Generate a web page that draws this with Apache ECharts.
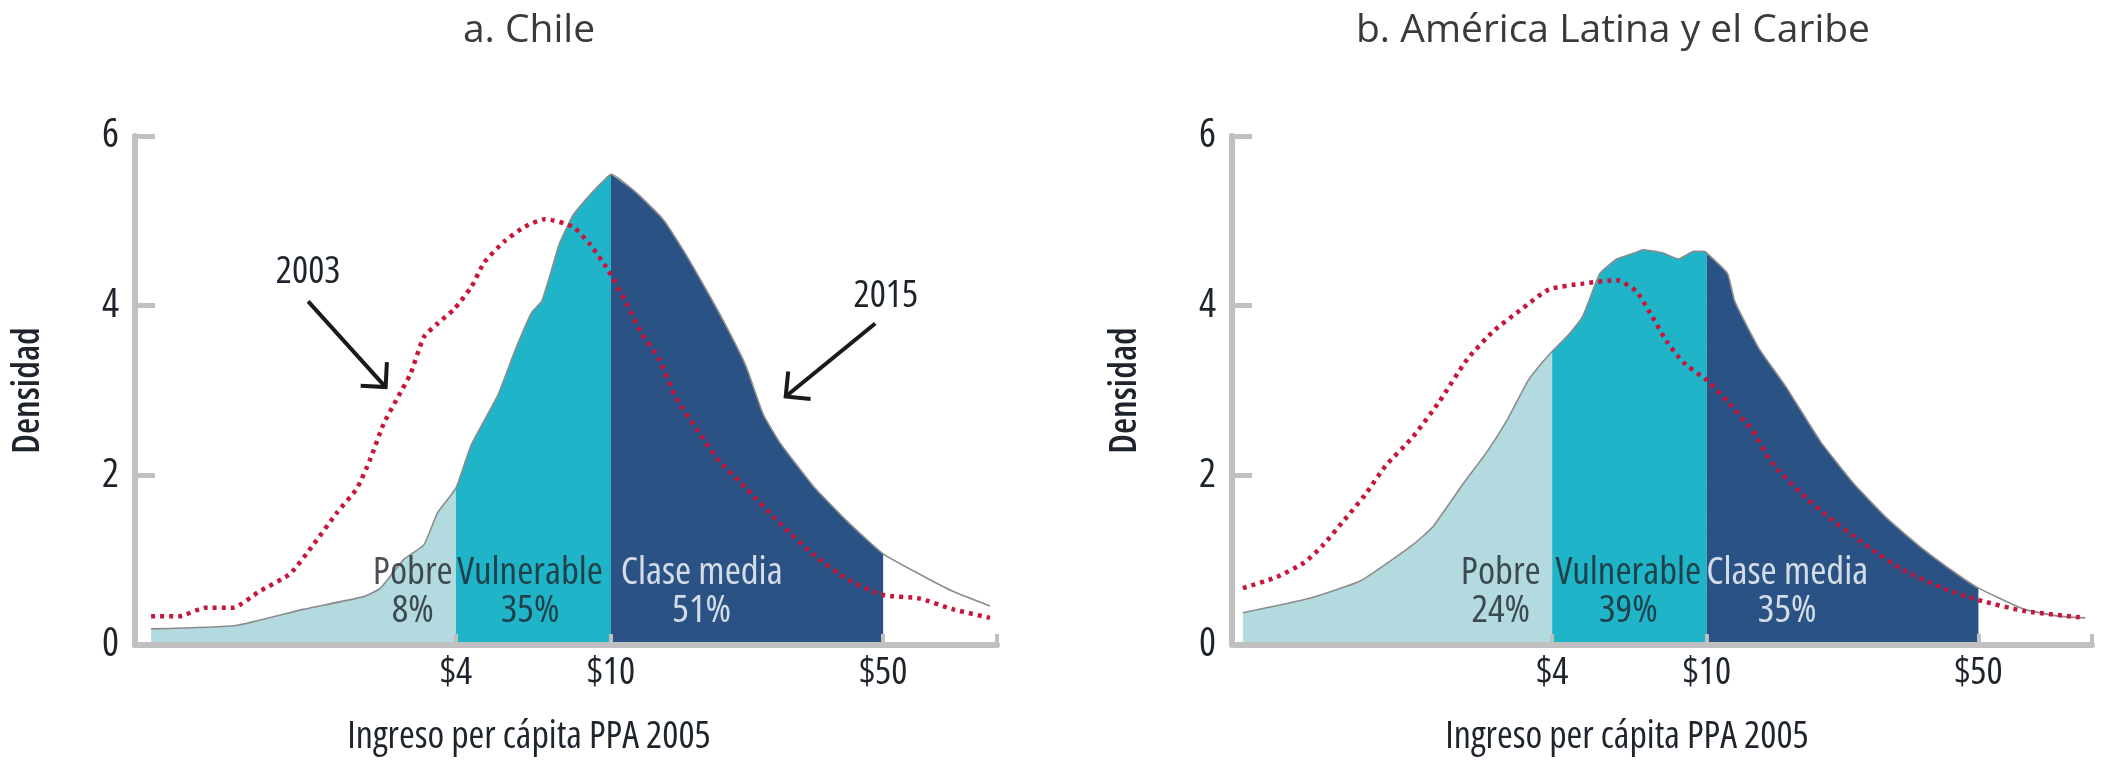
<!DOCTYPE html>
<html><head><meta charset="utf-8">
<script src="https://cdn.jsdelivr.net/npm/echarts@6/dist/echarts.min.js"></script>
<style>html,body{margin:0;padding:0;background:#fff}#c{width:2119px;height:764px}</style>
</head><body><div id="c"></div>
<script>
// ---------- data ----------
const panelTitles = ['a. Chile', 'b. América Latina y el Caribe'];
const yAxisName = 'Densidad';
const xAxisName = 'Ingreso per cápita PPA 2005';
const incomeTicks = [4, 10, 50];
const tickLabels = ['$4', '$10', '$50'];
const groups = ['Pobre', 'Vulnerable', 'Clase media'];
const chileShares = ['8%', '35%', '51%'];
const alcShares = ['24%', '39%', '35%'];
const yearLabels = ['2003', '2015'];

// Chile, 2015 density (income $ PPP/day, density)
const chile2015X = [0.66,1.09,1.62,2.32,2.56,2.94,3.31,3.59,4,4.38,5.13,5.66,6.26,6.64,7.05,7.36,7.98,8.85,9.8,10,11.5,13.6,15.4,17.4,19.6,22.2,24.6,27.2,33.4,41,50,61.7,75.7,94];
const chile2015Y = [0.19,0.23,0.42,0.57,0.67,1.01,1.18,1.56,1.85,2.36,2.95,3.46,3.92,4.05,4.43,4.72,5.06,5.31,5.52,5.55,5.35,5.02,4.64,4.22,3.79,3.29,2.72,2.38,1.85,1.43,1.075,0.84,0.63,0.46];
// Chile, 2003 density
const chile2003X = [0.66,0.78,0.91,1.07,1.25,1.5,1.72,1.98,2.23,2.41,2.61,2.83,3.06,3.31,3.59,3.96,4.38,4.73,5.33,6.01,6.77,7.98,8.85,9.8,10.9,12,13.3,14.7,16.7,18.8,22.2,27.2,33.4,41,50,61.7,75.7,94];
const chile2003Y = [0.34,0.34,0.44,0.44,0.63,0.84,1.18,1.56,1.85,2.19,2.61,2.91,3.2,3.63,3.79,3.96,4.22,4.51,4.76,4.93,5.02,4.93,4.72,4.43,4.05,3.67,3.37,2.91,2.53,2.19,1.85,1.43,1.05,0.76,0.59,0.55,0.42,0.32];
// América Latina y el Caribe, 2015 density
const alc2015X = [0.64,0.95,1.29,1.75,1.97,2.36,2.72,3.07,3.47,3.77,4,4.43,4.8,5.31,5.87,6.5,6.84,7.72,8.45,9.26,9.84,10,11.3,11.8,13.6,16,19.6,23.9,29.3,35.8,43.9,50,65.8,80.4,94];
const alc2015Y = [0.38,0.55,0.76,1.18,1.39,1.9,2.28,2.66,3.12,3.33,3.46,3.67,3.88,4.38,4.55,4.62,4.66,4.62,4.55,4.64,4.64,4.62,4.38,4.05,3.5,3.04,2.4,1.9,1.48,1.14,0.84,0.67,0.42,0.34,0.32];
// América Latina y el Caribe, 2003 density
const alc2003X = [0.64,0.78,0.92,1.03,1.17,1.32,1.49,1.75,2.05,2.42,2.84,3.34,3.92,4.8,5.87,6.58,7.13,7.88,8.71,10,11.3,13.1,14.7,17.3,20.4,24.9,31.8,40.5,50,65.8,94];
const alc2003Y = [0.67,0.8,0.97,1.18,1.48,1.77,2.11,2.45,2.87,3.37,3.71,3.96,4.19,4.26,4.3,4.17,3.92,3.58,3.33,3.12,2.87,2.53,2.15,1.81,1.52,1.22,0.89,0.67,0.53,0.4,0.32];

// ---------- layout / style (not data) ----------
const X_MIN = 0.6, X_MAX = 98;
const grids = [
  {left: 135, top: 136, width: 862, height: 509},
  {left: 1232, top: 136, width: 860, height: 509}
];
const groupLabelX = [[3.1, 6.2, 17.1], [2.95, 6.28, 16.1]];
const groupLabelY = 0.63;
const colors = {pobre: '#b2dadf', vuln: '#20b4c8', media: '#2b5285', outline: '#8c8c8c', red: '#c8153a', axis: '#c0c0c0', text: '#1e242c'};
const narrow = '"Open Sans","DejaVu Sans",sans-serif';
const COND = '500 condensed';          // font-stretch keyword placed in the weight slot
const COND_B = '600 condensed';
const bands = [[0, 4, colors.pobre], [4, 10, colors.vuln], [10, 50, colors.media]];

function pairs(xs, ys) { return xs.map((x, i) => [x, ys[i]]); }

const panels = [
  {d15: pairs(chile2015X, chile2015Y), d03: pairs(chile2003X, chile2003Y), shares: chileShares},
  {d15: pairs(alc2015X, alc2015Y), d03: pairs(alc2003X, alc2003Y), shares: alcShares}
];

const xAxes = [], yAxes = [], series = [];
panels.forEach((p, i) => {
  xAxes.push({
    gridIndex: i, type: 'log', logBase: 10, min: X_MIN, max: X_MAX, z: 5,
    axisLine: {show: true, onZero: false, lineStyle: {color: colors.axis, width: 6}},
    axisTick: {show: true, inside: true, length: 11, customValues: incomeTicks.concat([X_MAX]), lineStyle: {color: colors.axis, width: 4}},
    axisLabel: {show: true, customValues: incomeTicks, margin: 9, fontSize: 38, color: colors.text, fontFamily: narrow,
      fontStyle: 'normal', fontWeight: COND,
      formatter: v => tickLabels[incomeTicks.indexOf(Math.round(v))] || ''},
    splitLine: {show: false}, minorTick: {show: false}
  });
  yAxes.push({
    gridIndex: i, type: 'value', min: 0, max: 6, interval: 2, z: 5,
    name: yAxisName, nameLocation: 'middle', nameGap: 88, nameRotate: 90,
    nameTextStyle: {fontSize: 37, color: colors.text, fontFamily: narrow, fontStyle: 'normal', fontWeight: COND_B},
    axisLine: {show: true, lineStyle: {color: colors.axis, width: 6}},
    axisTick: {show: true, inside: true, length: 20, lineStyle: {color: colors.axis, width: 5}},
    axisLabel: {fontSize: 40, color: colors.text, fontFamily: narrow, fontStyle: 'normal', fontWeight: COND, margin: 16},
    splitLine: {show: false}
  });
  bands.forEach(([lo, hi, col]) => {
    series.push({
      type: 'line', xAxisIndex: i, yAxisIndex: i, showSymbol: false, silent: true, z: 1, smooth: 0.15,
      data: p.d15.filter(d => d[0] >= lo && d[0] <= hi),
      lineStyle: {width: 0, opacity: 0}, areaStyle: {color: col, opacity: 1}
    });
  });
  series.push({
    type: 'line', xAxisIndex: i, yAxisIndex: i, showSymbol: false, silent: true, z: 3, smooth: 0.15,
    data: p.d15, lineStyle: {color: colors.outline, width: 1.6}
  });
  series.push({
    type: 'line', xAxisIndex: i, yAxisIndex: i, showSymbol: false, silent: true, z: 4, smooth: 0.2,
    data: p.d03, lineStyle: {color: colors.red, width: 4.5, type: [4, 5], cap: 'butt'}
  });
  series.push({
    type: 'scatter', xAxisIndex: i, yAxisIndex: i, symbolSize: 1, silent: true, z: 6,
    data: groups.map((g, k) => ({
      name: g + '\n' + p.shares[k], value: [groupLabelX[i][k], groupLabelY],
      label: k === 2 ? {color: '#ffffff'} : undefined
    })),
    label: {show: true, position: 'inside', formatter: '{b}', fontSize: 39, lineHeight: 38, fontFamily: narrow,
      fontStyle: 'normal', fontWeight: COND, align: 'center', verticalAlign: 'middle', color: colors.text},
    itemStyle: {color: 'rgba(0,0,0,0)'},
    labelLayout: {hideOverlap: false}
  });
});

const chart = echarts.init(document.getElementById('c'), null, {renderer: 'canvas'});
chart.setOption({
  animation: false,
  backgroundColor: '#ffffff',
  title: [
    {text: panelTitles[0], left: 524, top: 6, textAlign: 'center', textStyle: {fontFamily: '"Open Sans",sans-serif', fontWeight: 'normal', fontSize: 39, color: '#3a3a3a'}},
    {text: panelTitles[1], left: 1608, top: 6, textAlign: 'center', textStyle: {fontFamily: '"Open Sans",sans-serif', fontWeight: 'normal', fontSize: 39, color: '#3a3a3a'}}
  ],
  grid: grids,
  xAxis: xAxes,
  yAxis: yAxes,
  series: series
});

// annotations anchored in data coordinates
const arrows = [
  {from: [1.67, 4.05], to: [2.64, 3.04], text: yearLabels[0], textAt: [1.67, 4.39]},
  {from: [47.7, 3.79], to: [28.1, 2.93], text: yearLabels[1], textAt: [50.8, 4.11]}
];
const g = [];
arrows.forEach(a => {
  const s = chart.convertToPixel({gridIndex: 0}, a.from);
  const t = chart.convertToPixel({gridIndex: 0}, a.to);
  const dx = s[0] - t[0], dy = s[1] - t[1];
  const L = Math.hypot(dx, dy), ux = dx / L, uy = dy / L, len = 25;
  const arm = ang => [t[0] + len * (ux * Math.cos(ang) - uy * Math.sin(ang)), t[1] + len * (ux * Math.sin(ang) + uy * Math.cos(ang))];
  g.push({type: 'line', shape: {x1: s[0], y1: s[1], x2: t[0], y2: t[1]}, style: {stroke: '#1a1a1a', lineWidth: 4}, z: 10});
  g.push({type: 'polyline', shape: {points: [arm(Math.PI / 4), t, arm(-Math.PI / 4)]}, style: {stroke: '#1a1a1a', lineWidth: 4, fill: null}, z: 10});
  const tp = chart.convertToPixel({gridIndex: 0}, a.textAt);
  g.push({type: 'text', x: tp[0], y: tp[1], style: {text: a.text, fontSize: 38, fontFamily: narrow, fontStyle: 'normal', fontWeight: COND, fill: colors.text, align: 'center', verticalAlign: 'middle'}, z: 10});
});
[529, 1627].forEach(cx => {
  g.push({type: 'text', x: cx, y: 737, style: {text: xAxisName, fontSize: 38, fontFamily: narrow, fontStyle: 'normal', fontWeight: COND, fill: colors.text, align: 'center', verticalAlign: 'middle'}});
});
chart.setOption({graphic: g});
</script></body></html>
